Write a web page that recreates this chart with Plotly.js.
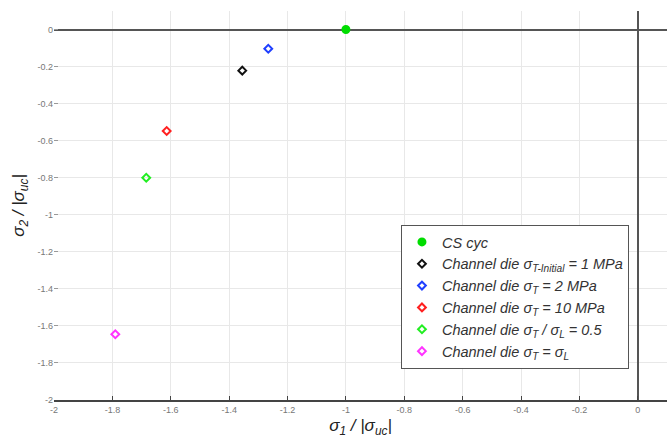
<!DOCTYPE html>
<html><head><meta charset="utf-8">
<script src="https://cdn.plot.ly/plotly-3.0.1.min.js"></script>
<style>html,body{margin:0;padding:0;background:#fff}</style>
</head><body>
<div id="chart" style="width:667px;height:438px"></div>
<script>
const seriesNames = [
  "CS cyc",
  "Channel die σ<sub>T-Initial</sub> = 1 MPa",
  "Channel die σ<sub>T</sub> = 2 MPa",
  "Channel die σ<sub>T</sub> = 10 MPa",
  "Channel die σ<sub>T</sub> / σ<sub>L</sub> = 0.5",
  "Channel die σ<sub>T</sub> = σ<sub>L</sub>"
];
const sigma1 = [-1.0, -1.355, -1.266, -1.614, -1.684, -1.790];
const sigma2 = [0.0, -0.222, -0.104, -0.548, -0.800, -1.645];
const colors = ["#00dd00", "#111111", "#1f3fff", "#ff2020", "#22ee22", "#ff33ff"];
const symbols = ["circle", "diamond-open", "diamond-open", "diamond-open", "diamond-open", "diamond-open"];
const xTicks = [-2, -1.8, -1.6, -1.4, -1.2, -1, -0.8, -0.6, -0.4, -0.2, 0];
const yTicks = [0, -0.2, -0.4, -0.6, -0.8, -1, -1.2, -1.4, -1.6, -1.8, -2];

const traces = seriesNames.map((n, i) => ({
  type: "scatter", mode: "markers",
  x: [sigma1[i]], y: [sigma2[i]],
  name: "<i>" + n + "</i>",
  marker: {symbol: symbols[i], color: colors[i], size: i === 0 ? 7 : 6,
           line: {color: colors[i], width: 2}}
}));

const layout = {
  width: 667, height: 438,
  margin: {l: 54, r: 0, t: 11, b: 38},
  paper_bgcolor: "#fff", plot_bgcolor: "#fff",
  font: {family: "Liberation Sans, Arial, sans-serif", color: "#333"},
  xaxis: {
    range: [-2, 0.1], tickmode: "array", tickvals: xTicks, ticktext: xTicks.map(String),
    showgrid: true, gridcolor: "#e8e8e8", gridwidth: 1,
    zeroline: true, zerolinecolor: "#555", zerolinewidth: 1.5,
    showline: true, linecolor: "#444", linewidth: 1.5,
    ticks: "inside", ticklen: 4, tickcolor: "#444",
    tickfont: {size: 9, color: "#777"},
    title: {text: "<i>σ<sub>1</sub> / |σ<sub>uc</sub>|</i>", font: {size: 17, color: "#222"}, standoff: 6}
  },
  yaxis: {
    range: [-2, 0.1], tickmode: "array", tickvals: yTicks, ticktext: yTicks.map(String),
    showgrid: true, gridcolor: "#e8e8e8", gridwidth: 1,
    zeroline: true, zerolinecolor: "#555", zerolinewidth: 1.5,
    showline: false,
    ticks: "inside", ticklen: 4, tickcolor: "#999",
    tickfont: {size: 9, color: "#777"},
    title: {text: "<i>σ<sub>2</sub> / |σ<sub>uc</sub>|</i>", font: {size: 17, color: "#222"}, standoff: 8}
  },
  showlegend: true,
  legend: {
    x: 0.566, y: 0.45, xanchor: "left", yanchor: "top",
    bgcolor: "#fff", bordercolor: "#555", borderwidth: 1,
    font: {size: 14.5, color: "#333"},
    itemwidth: 30, tracegroupgap: 0
  }
};

Plotly.newPlot("chart", traces, layout, {displayModeBar: false});
</script>
</body></html>
